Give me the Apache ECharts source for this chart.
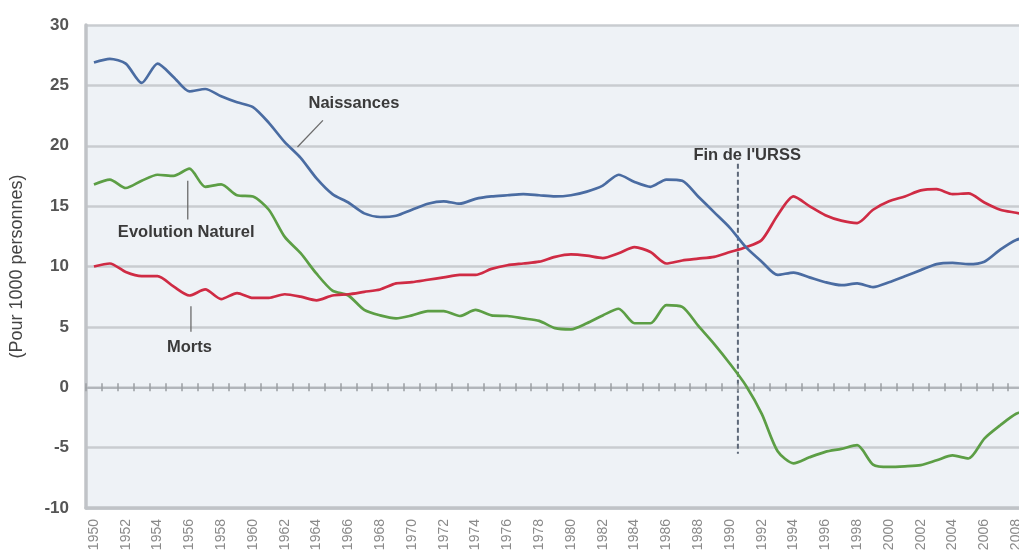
<!DOCTYPE html>
<html><head><meta charset="utf-8">
<script src="https://cdn.jsdelivr.net/npm/echarts@6/dist/echarts.min.js"></script>
<style>html,body{margin:0;padding:0;background:#fff}#c{width:1019px;height:559px}</style>
</head><body><div id="c"></div>
<script>
const years = [1950,1951,1952,1953,1954,1955,1956,1957,1958,1959,
  1960,1961,1962,1963,1964,1965,1966,1967,1968,1969,
  1970,1971,1972,1973,1974,1975,1976,1977,1978,1979,
  1980,1981,1982,1983,1984,1985,1986,1987,1988,1989,
  1990,1991,1992,1993,1994,1995,1996,1997,1998,1999,
  2000,2001,2002,2003,2004,2005,2006,2007,2008,2009];
const naissances = [26.9,27.2,26.8,25.2,26.8,25.7,24.5,24.7,24.1,23.6,
  23.2,21.9,20.3,19.0,17.3,16.0,15.3,14.4,14.1,14.2,
  14.7,15.2,15.4,15.2,15.6,15.8,15.9,16.0,15.9,15.8,
  15.9,16.2,16.7,17.6,17.0,16.6,17.2,17.1,15.8,14.5,
  13.2,11.6,10.4,9.3,9.5,9.1,8.7,8.45,8.6,8.3,
  8.7,9.2,9.7,10.2,10.3,10.2,10.4,11.4,12.2,12.5];
const morts = [10.0,10.25,9.55,9.2,9.2,8.35,7.6,8.1,7.3,7.8,
  7.4,7.4,7.7,7.5,7.2,7.6,7.7,7.9,8.1,8.6,
  8.7,8.9,9.1,9.3,9.3,9.8,10.1,10.25,10.4,10.8,
  11.0,10.9,10.7,11.1,11.6,11.2,10.25,10.5,10.65,10.8,
  11.2,11.6,12.2,14.25,15.8,15.0,14.25,13.8,13.6,14.7,
  15.4,15.8,16.3,16.4,16.0,16.05,15.3,14.7,14.45,14.2];
const evolution = [16.8,17.2,16.5,17.1,17.6,17.5,18.1,16.6,16.8,15.9,
  15.8,14.7,12.45,11.1,9.4,8.0,7.6,6.4,5.95,5.7,
  5.95,6.3,6.3,5.9,6.4,5.95,5.9,5.7,5.5,4.9,
  4.8,5.3,5.95,6.5,5.3,5.3,6.8,6.65,5.1,3.6,
  1.95,0.15,-2.2,-5.3,-6.3,-5.8,-5.35,-5.1,-4.8,-6.4,
  -6.6,-6.55,-6.45,-6.05,-5.65,-5.9,-4.25,-3.15,-2.2,-1.8];
const yTicks = {min:-10, max:30, interval:5};
const yName = '(Pour 1000 personnes)';
const labels = {naissances:'Naissances', morts:'Morts', evolution:'Evolution Naturel', urss:"Fin de l'URSS"};
const urssYear = 1990.5;

const chart = echarts.init(document.getElementById('c'), null, {renderer:'canvas'});
const pair = a => a.map((v,i) => [years[i], v]);
const font = 'Liberation Sans, Arial, sans-serif';
const xMin = years[0]-0.5, xMax = years[years.length-1]+0.5;
const option = {
  animation:false,
  grid:{left:86,width:954,top:25,bottom:51,show:true,backgroundColor:'#eef2f6',borderWidth:0,
        outerBoundsMode:'none',containLabel:false},
  xAxis:[
    {type:'category',data:years.map(String),position:'bottom',boundaryGap:true,
     axisLine:{onZero:false,lineStyle:{color:'#c0c3c7',width:3.5}},axisTick:{show:false},
     axisLabel:{interval:1,rotate:90,fontSize:14,color:'#8a8a8a',margin:11,fontFamily:font},splitLine:{show:false}},
    {type:'value',min:xMin,max:xMax,interval:1,position:'bottom',
     axisLine:{onZero:true,onZeroAxisIndex:0,lineStyle:{color:'#b0b4b9',width:1.5}},
     axisTick:{show:true,length:4,inside:false,lineStyle:{color:'#9a9ea3',width:1.5}},
     axisLabel:{show:false},splitLine:{show:false}},
    {type:'value',min:xMin,max:xMax,interval:1,position:'bottom',
     axisLine:{onZero:true,onZeroAxisIndex:1,show:true,lineStyle:{color:'#b0b4b9',width:1.5}},
     axisTick:{show:true,length:4,inside:true,lineStyle:{color:'#9a9ea3',width:1.5}},
     axisLabel:{show:false},splitLine:{show:false}}
  ],
  yAxis:[
    {type:'value',min:yTicks.min,max:yTicks.max,interval:yTicks.interval,position:'left',
    name:yName,nameLocation:'middle',nameRotate:90,nameGap:60,
    nameTextStyle:{fontSize:18,color:'#444',fontFamily:font},
    axisLine:{show:true,onZero:false,lineStyle:{color:'#c0c3c7',width:3.5}},axisTick:{show:false},
    axisLabel:{fontSize:17,color:'#555',fontWeight:'bold',margin:17,fontFamily:font},
    splitLine:{lineStyle:{color:'#c9ccd0',width:2.5}}},
    {type:'value',min:yTicks.min,max:yTicks.max,interval:yTicks.interval,position:'right',
     axisLine:{show:false,onZero:false},axisTick:{show:false},axisLabel:{show:false},splitLine:{show:false}}
  ],
  series:[
    {name:labels.evolution,type:'line',xAxisIndex:1,yAxisIndex:0,data:pair(evolution),showSymbol:false,smooth:0.25,
     lineStyle:{color:'#5c9e45',width:2.7},itemStyle:{color:'#5c9e45'}},
    {name:labels.morts,type:'line',xAxisIndex:1,yAxisIndex:0,data:pair(morts),showSymbol:false,smooth:0.25,
     lineStyle:{color:'#cf2b44',width:2.7},itemStyle:{color:'#cf2b44'}},
    {name:labels.naissances,type:'line',xAxisIndex:1,yAxisIndex:0,data:pair(naissances),showSymbol:false,smooth:0.25,
     lineStyle:{color:'#4a6ca2',width:2.7},itemStyle:{color:'#4a6ca2'}}
  ]
};
chart.setOption(option);

const P = (x,y) => chart.convertToPixel({xAxisIndex:1,yAxisIndex:0},[x,y]);
const txt = (p, s, align) => ({type:'text',x:p[0],y:p[1],
  style:{text:s,fill:'#3a3a3a',font:'bold 16.5px '+font,align:align||'center',verticalAlign:'middle'}});
const ln = (a,b,extra) => ({type:'line',shape:{x1:a[0],y1:a[1],x2:b[0],y2:b[1]},
  style:Object.assign({stroke:'#6b6b6b',lineWidth:1.3},extra||{})});
chart.setOption({graphic:[
  ln(P(urssYear,18.5),P(urssYear,-5.5),{stroke:'#5d6878',lineWidth:2,lineDash:[5,3]}),
  txt(P(1966.35,23.5),labels.naissances),
  ln(P(1964.4,22.1),P(1962.8,19.9)),
  txt(P(1955.8,12.8),labels.evolution),
  ln(P(1955.9,17.1),P(1955.9,13.9)),
  txt(P(1956.0,3.3),labels.morts),
  ln(P(1956.1,6.7),P(1956.1,4.6)),
  txt(P(1987.7,19.2),labels.urss,'left')
]});
</script></body></html>
